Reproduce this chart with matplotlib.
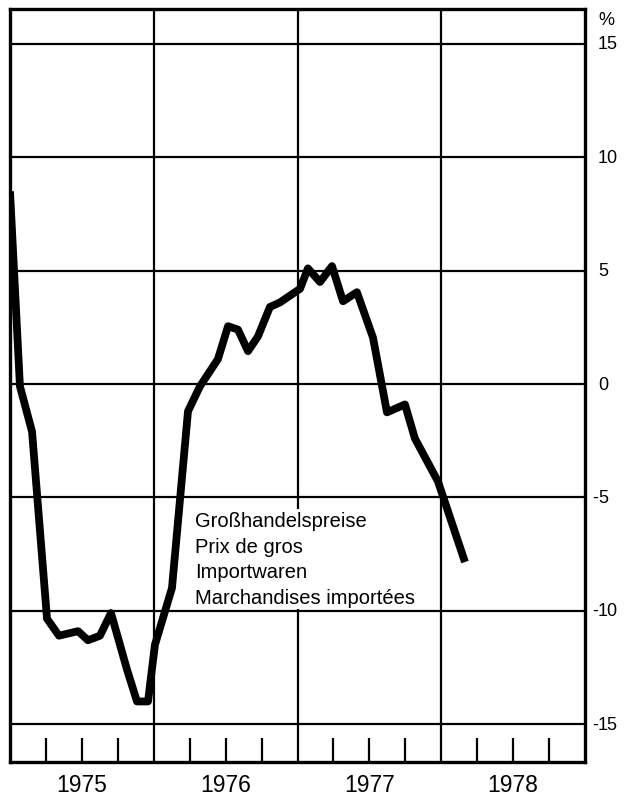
import matplotlib.pyplot as plt
from matplotlib.transforms import blended_transform_factory

# months since Jan 1975 and year-on-year change in %
months = [0.0, 0.83, 1.84, 3.09, 4.09, 5.68, 6.51, 7.51, 8.43, 9.77,
          10.6, 11.52, 12.1, 13.52, 14.86, 15.86, 17.36, 18.2, 19.03, 19.87,
          20.7, 21.7, 22.54, 24.21, 24.87, 25.88, 26.88, 27.8, 28.96, 30.3,
          31.47, 32.97, 33.8, 35.73, 37.98]
change = [8.5, -0.1, -2.1, -10.35, -11.1, -10.9, -11.3, -11.1, -10.1, -12.6,
          -14.0, -14.0, -11.5, -9.0, -1.2, -0.1, 1.1, 2.55, 2.4, 1.45,
          2.1, 3.4, 3.6, 4.2, 5.1, 4.5, 5.2, 3.65, 4.05, 2.05,
          -1.25, -0.9, -2.4, -4.3, -7.85]

years = ["1975", "1976", "1977", "1978"]
y_ticks = [15, 10, 5, 0, -5, -10, -15]
label_lines = ["Großhandelspreise", "Prix de gros", "Importwaren",
               "Marchandises importées"]

plt.rcParams["font.family"] = ["Liberation Sans", "DejaVu Sans"]

fig = plt.figure(figsize=(6.32, 8.03), dpi=100)
ax = fig.add_axes([10 / 632, 1 - 763 / 803, 575 / 632, 753 / 803])
ax.set_xlim(0, 48)
ax.set_ylim(-16.67, 16.54)

for v in y_ticks:
    ax.axhline(v, color="black", lw=1.6, zorder=1)
for m in (12, 24, 36):
    ax.axvline(m, color="black", lw=1.6, zorder=1)

ax.plot(months, change, color="black", lw=5.6, solid_joinstyle="round",
        solid_capstyle="butt", zorder=4)

for side in ("left", "right", "top", "bottom"):
    ax.spines[side].set_linewidth(2.4)

quarters = [m for m in range(3, 48, 3) if m % 12 != 0]
ax.set_xticks(quarters)
ax.set_xticklabels([])
ax.tick_params(axis="x", direction="in", length=17, width=1.6, bottom=True)
ax.set_yticks([])

trans = blended_transform_factory(ax.transData, ax.transAxes)
for i, yr in enumerate(years):
    ax.text(6 + 12 * i, -0.030, yr, transform=trans, ha="center",
            va="center", fontsize=16.5)

trans_y = blended_transform_factory(ax.transAxes, ax.transData)
x_lab = (598 - 10) / 575
for v in y_ticks:
    ax.text(x_lab, v, str(abs(v)), transform=trans_y, ha="left",
            va="center", fontsize=13)
    if v < 0:
        ax.text(x_lab, v, "-", transform=trans_y, ha="right",
                va="center", fontsize=13)
ax.text(x_lab, 0.998, "%", transform=ax.transAxes, ha="left", va="top",
        fontsize=13)

ax.text((195 - 10) * 48 / 575, -5.6, "\n".join(label_lines),
        ha="left", va="top", fontsize=14.5, linespacing=1.45, zorder=3,
        bbox=dict(facecolor="white", edgecolor="none", pad=1.5))

fig.savefig("out.png", dpi=100)
